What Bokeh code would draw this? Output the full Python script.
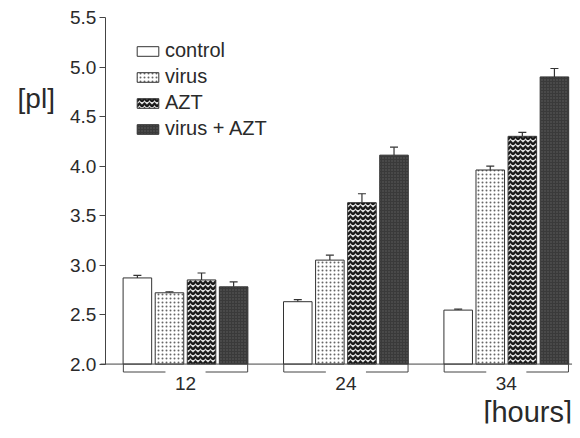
from bokeh.plotting import figure
from bokeh.models import (Range1d, FixedTicker, PrintfTickFormatter, Whisker, TeeHead,
                          ColumnDataSource, Label, Legend, LegendItem, LinearAxis)
from bokeh.core.properties import value
from bokeh.embed import file_html
from bokeh.resources import INLINE

categories = ["12", "24", "34"]
series = ["control", "virus", "AZT", "virus + AZT"]
control = [2.87, 2.63, 2.545]
virus = [2.72, 3.05, 3.96]
azt = [2.85, 3.63, 4.30]
virus_azt = [2.78, 4.11, 4.90]
control_err = [0.025, 0.02, 0.01]
virus_err = [0.01, 0.05, 0.04]
azt_err = [0.07, 0.09, 0.04]
virus_azt_err = [0.05, 0.08, 0.085]
y_ticks = [2.0, 2.5, 3.0, 3.5, 4.0, 4.5, 5.0, 5.5]

FONT = "Liberation Sans"
INK = "#2a2a2a"
AXIS_X = -0.5

p = figure(width=576, height=434, output_backend="svg", toolbar_location=None,
           x_axis_location=None, y_axis_location=None,
           min_border_left=0, min_border_top=7,
           min_border_right=4, min_border_bottom=11)
p.x_range = Range1d(-1.1534, 2.4127)
p.y_range = Range1d(1.4, 5.601)
p.grid.visible = False
p.outline_line_color = None
p.background_fill_color = "white"

ax = LinearAxis(fixed_location=AXIS_X)
ax.bounds = (2.0, 5.5)
ax.ticker = FixedTicker(ticks=y_ticks)
ax.formatter = PrintfTickFormatter(format="%.1f")
ax.major_tick_out = 6
ax.major_tick_in = 0
ax.minor_tick_line_color = None
ax.axis_line_color = "#444444"
ax.major_tick_line_color = "#444444"
ax.major_label_text_font = FONT
ax.major_label_text_font_size = "19px"
ax.major_label_text_color = INK
ax.major_label_standoff = 3
p.add_layout(ax, "left")

xs = list(range(len(categories)))
offsets = [-0.3, -0.1, 0.1, 0.3]
width = 0.178
vals = [control, virus, azt, virus_azt]
errs = [control_err, virus_err, azt_err, virus_azt_err]
styles = [
    dict(fill_color="white", hatch_pattern=None),
    dict(fill_color="white", hatch_pattern="dot", hatch_color="#666666", hatch_scale=4, hatch_weight=1.3),
    dict(fill_color="#e0e0e0", hatch_pattern="horizontal_wave", hatch_color="#1a1a1a", hatch_scale=5, hatch_weight=2.4),
    dict(fill_color="#3a3a3a", hatch_pattern="dot", hatch_color="#5e5e5e", hatch_scale=3, hatch_weight=1),
]

items = []
for name, v, e, off, st in zip(series, vals, errs, offsets, styles):
    src = ColumnDataSource(dict(x=[x + off for x in xs], top=v,
                                up=[a + b for a, b in zip(v, e)]))
    kw = {k: val for k, val in st.items() if val is not None}
    r = p.vbar(x="x", top="top", bottom=2.0, width=width, source=src,
               line_color="#333333", line_width=1, **kw)
    items.append(LegendItem(label=name, renderers=[r]))
    w = Whisker(base="x", upper="up", lower="top", source=src, dimension="height",
                line_color="#333333", line_width=1.2,
                upper_head=TeeHead(size=8, line_color="#333333", line_width=1.2),
                lower_head=None)
    p.add_layout(w)

# baseline along y = 2.0, from the axis to the right edge
p.segment(x0=[AXIS_X - 0.03], y0=[2.0], x1=[2.41], y1=[2.0], line_color="#444444", line_width=1)

# group brackets
half = 0.3875
gap = 0.125
bxs, bys = [], []
for g in xs:
    bxs.append([g - half, g - half, g - gap])
    bys.append([2.0, 1.92, 1.92])
    bxs.append([g + gap, g + half, g + half])
    bys.append([1.92, 1.92, 2.0])
p.multi_line(bxs, bys, line_color="#444444", line_width=1)

p.text(x=xs, y=[1.80] * len(xs), text=categories, text_align="center",
       text_baseline="middle", text_font=value(FONT), text_font_size="19px",
       text_color=INK)

legend = Legend(items=items, location=(134, 283), border_line_color=None,
                background_fill_alpha=0, padding=0, margin=0, spacing=3,
                glyph_width=27, glyph_height=12, label_height=20, label_standoff=4,
                label_text_font=FONT, label_text_font_size="20px",
                label_text_color=INK)
p.add_layout(legend)

p.add_layout(Label(x=-1.047, y=4.68, text="[pl]",
                   text_align="left", text_baseline="middle",
                   text_font=FONT, text_font_size="28px", text_color=INK))
p.add_layout(Label(x=2.41, y=1.52, text="[hours]", text_align="right", text_baseline="middle",
                   text_font=FONT, text_font_size="29px", text_color=INK))

open("out.html", "w").write(file_html(p, INLINE))
